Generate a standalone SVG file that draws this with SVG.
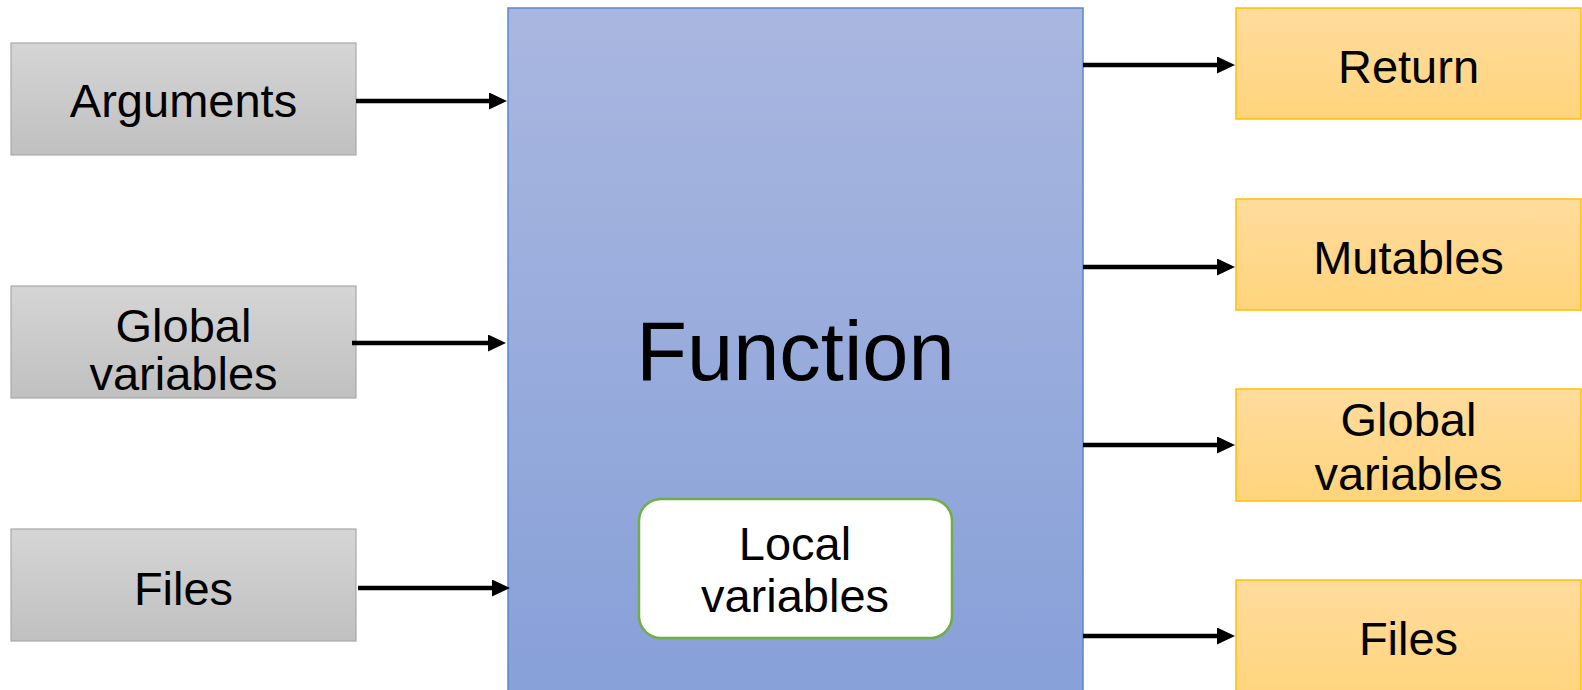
<svg xmlns="http://www.w3.org/2000/svg" width="1582" height="690" viewBox="0 0 1582 690">
  <defs>
    <linearGradient id="gGray" x1="0" y1="0" x2="0" y2="1">
      <stop offset="0" stop-color="#d5d5d5"/>
      <stop offset="1" stop-color="#c0c0c0"/>
    </linearGradient>
    <linearGradient id="gGold" x1="0" y1="0" x2="0" y2="1">
      <stop offset="0" stop-color="#ffdc9d"/>
      <stop offset="1" stop-color="#ffd47c"/>
    </linearGradient>
    <linearGradient id="gBlue" x1="0" y1="0" x2="0" y2="1">
      <stop offset="0" stop-color="#a9b7e0"/>
      <stop offset="1" stop-color="#87a0d8"/>
    </linearGradient>
    <!-- filled triangular head; the tip sits 10px past the line end -->
    <marker id="arrow" markerWidth="18" markerHeight="17" refX="8" refY="8.5" orient="auto" markerUnits="userSpaceOnUse" viewBox="0 0 18 17">
      <path d="M0,0 L18,8.5 L0,17 Z" fill="#000"/>
    </marker>
  </defs>
  <style>
    .in { fill: url(#gGray); stroke: #a8a8a8; stroke-width: 1.2; }
    .out { fill: url(#gGold); stroke: #ffc000; stroke-width: 1.5; }
    .lbl { font-family: "Liberation Sans", Arial, sans-serif; font-size: 47px; fill: #000; text-anchor: middle; }
    .conn line { stroke: #000; stroke-width: 4.5; marker-end: url(#arrow); }
  </style>
  <rect width="1582" height="690" fill="#fff"/>

  <!-- central function block -->
  <g id="function">
    <rect x="508" y="8" width="575" height="690" fill="url(#gBlue)" stroke="#5a86d2" stroke-width="1.5"/>
    <text x="795.5" y="380" class="lbl" style="font-size:83px">Function</text>
  </g>

  <g id="local-variables">
    <rect x="639" y="499" width="313" height="139" rx="22" ry="22" fill="#fff" stroke="#70ad47" stroke-width="2.5"/>
    <text x="795" y="560" class="lbl">Local</text>
    <text x="795" y="612" class="lbl">variables</text>
  </g>

  <!-- inputs -->
  <g id="arguments">
    <rect x="11" y="43" width="345" height="112" class="in"/>
    <text x="183.5" y="117" class="lbl">Arguments</text>
  </g>
  <g id="global-in">
    <rect x="11" y="286" width="345" height="112" class="in"/>
    <text x="183.5" y="342" class="lbl">Global</text>
    <text x="183.5" y="390" class="lbl">variables</text>
  </g>
  <g id="files-in">
    <rect x="11" y="529" width="345" height="112" class="in"/>
    <text x="183.5" y="605" class="lbl">Files</text>
  </g>

  <!-- outputs -->
  <g id="return">
    <rect x="1236" y="8" width="345" height="111" class="out"/>
    <text x="1408.5" y="83" class="lbl">Return</text>
  </g>
  <g id="mutables">
    <rect x="1236" y="199" width="345" height="111" class="out"/>
    <text x="1408.5" y="274" class="lbl">Mutables</text>
  </g>
  <g id="global-out">
    <rect x="1236" y="389" width="345" height="112" class="out"/>
    <text x="1408.5" y="436" class="lbl">Global</text>
    <text x="1408.5" y="490" class="lbl">variables</text>
  </g>
  <g id="files-out">
    <rect x="1236" y="580" width="345" height="120" class="out"/>
    <text x="1408.5" y="655" class="lbl">Files</text>
  </g>

  <!-- connectors -->
  <g id="connectors" class="conn">
    <line x1="356" y1="101" x2="497" y2="101"/>
    <line x1="352" y1="343" x2="496" y2="343"/>
    <line x1="358" y1="588" x2="500" y2="588"/>
    <line x1="1083" y1="65" x2="1225" y2="65"/>
    <line x1="1083" y1="267" x2="1225" y2="267"/>
    <line x1="1083" y1="445" x2="1225" y2="445"/>
    <line x1="1083" y1="636" x2="1225" y2="636"/>
  </g>
</svg>
